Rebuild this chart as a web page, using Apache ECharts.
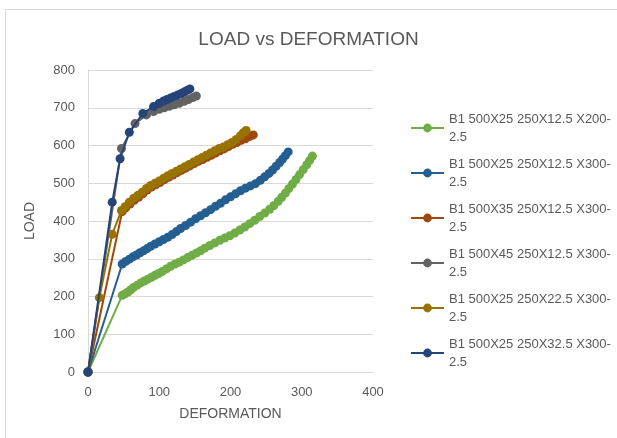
<!DOCTYPE html>
<html><head><meta charset="utf-8">
<script src="https://cdn.jsdelivr.net/npm/echarts@6/dist/echarts.min.js"></script>
<style>html,body{margin:0;padding:0;background:#fff}#c{width:617px;height:438px}</style>
</head><body><div id="c"></div>
<script>
const title = 'LOAD vs DEFORMATION';
const xName = 'DEFORMATION';
const yName = 'LOAD';
const xTicks = [0, 100, 200, 300, 400];
const yTicks = [0, 100, 200, 300, 400, 500, 600, 700, 800];
const names = [
  'B1 500X25 250X12.5 X200-2.5',
  'B1 500X25 250X12.5 X300-2.5',
  'B1 500X35 250X12.5 X300-2.5',
  'B1 500X45 250X12.5 X300-2.5',
  'B1 500X25 250X22.5 X300-2.5',
  'B1 500X25 250X32.5 X300-2.5'
];
const colors = ['#70AD47', '#255E91', '#9E480E', '#636363', '#997300', '#264478'];
const s1 = [[0,0],[48,203],[52,207],[56,212],[60,218],[64,224],[69,230],[74,236],[79,241],[84,246],[89,251],[94,256],[99,261],[104,266],[110,273],[116,280],[122,286],[128,291],[134,297],[140,303],[146,309],[152,315],[158,321],[164,328],[171,335],[178,342],[185,349],[192,355],[199,361],[206,368],[213,376],[220,384],[227,393],[234,402],[241,412],[248,421],[255,431],[261,441],[267,452],[272,463],[277,474],[282,486],[287,498],[292,510],[297,523],[302,536],[307,549],[311,560],[315,572]];
const s2 = [[0,0],[48,286],[53,293],[58,299],[63,305],[68,310],[73,316],[78,321],[83,327],[88,333],[94,339],[100,345],[106,351],[112,357],[118,364],[124,372],[130,380],[137,388],[144,397],[151,406],[158,414],[165,422],[172,430],[179,439],[186,447],[193,456],[200,464],[207,472],[214,480],[221,487],[228,493],[235,499],[242,508],[248,517],[254,526],[259,535],[264,545],[269,555],[273,564],[277,573],[281,583]];
const s3 = [[0,0],[48,425],[53,435],[59,445],[65,455],[71,463],[77,472],[83,482],[89,490],[95,496],[101,502],[107,509],[113,516],[119,522],[125,528],[131,534],[137,540],[143,546],[149,552],[155,558],[161,563],[167,569],[173,574],[179,580],[185,586],[191,591],[197,597],[203,603],[209,608],[215,614],[221,618],[227,624],[232,628]];
const s4 = [[0,0],[47,592],[66,658],[82,681],[92,690],[100,696],[107,700],[114,704],[121,708],[128,712],[135,717],[141,722],[147,727],[152,731]];
const s5 = [[0,0],[16,197],[34,365],[47,428],[52,438],[58,450],[64,460],[70,468],[76,476],[82,486],[88,494],[94,500],[100,506],[106,513],[112,520],[118,526],[124,532],[130,538],[136,544],[142,550],[148,556],[154,562],[160,568],[166,574],[172,580],[178,586],[184,592],[190,596],[196,602],[202,608],[208,616],[214,626],[218,634],[222,640]];
const s6 = [[0,0],[34,450],[45,565],[58,635],[77,685],[92,703],[100,712],[106,718],[111,722],[116,726],[121,730],[126,734],[131,738],[135,742],[139,746],[143,750]];
const seriesData = [s1, s2, s3, s4, s5, s6];

const FONT = 'Liberation Sans';
const chart = echarts.init(document.getElementById('c'), null, {renderer: 'canvas'});
chart.setOption({
  animation: false,
  backgroundColor: '#fff',
  textStyle: {fontFamily: FONT},
  title: {
    text: title, left: 'center', top: 25,
    textStyle: {fontFamily: FONT, fontSize: 19, fontWeight: 'normal', color: '#595959'}
  },
  graphic: [{
    type: 'rect', silent: true,
    shape: {x: 5.5, y: 9.5, width: 800, height: 600},
    style: {fill: 'none', stroke: '#d9d9d9', lineWidth: 1}
  }],
  grid: {left: 88, right: 244, top: 70, bottom: 66, containLabel: false},
  legend: {
    orient: 'vertical', left: 405, top: 96,
    itemWidth: 33, itemHeight: 11, itemGap: -9,
    formatter: n => n.replace(/-(?=[^-]*$)/, '-\n'),
    textStyle: {fontFamily: FONT, fontSize: 13, color: '#595959', lineHeight: 18, padding: [18, 0, 0, 0]},
    data: names
  },
  xAxis: {
    type: 'value', min: xTicks[0], max: xTicks[xTicks.length - 1], interval: 100,
    name: xName, nameLocation: 'middle', nameGap: 35,
    nameTextStyle: {fontFamily: FONT, fontSize: 14, color: '#595959'},
    axisLine: {show: true, lineStyle: {color: '#d9d9d9'}},
    axisTick: {show: false},
    axisLabel: {fontFamily: FONT, fontSize: 13, color: '#595959', margin: 14},
    splitLine: {show: false}
  },
  yAxis: {
    type: 'value', min: yTicks[0], max: yTicks[yTicks.length - 1], interval: 100,
    name: yName, nameLocation: 'middle', nameGap: 51, nameRotate: 90,
    nameTextStyle: {fontFamily: FONT, fontSize: 14, color: '#595959'},
    axisLine: {show: true, lineStyle: {color: '#d9d9d9'}},
    axisTick: {show: false},
    axisLabel: {fontFamily: FONT, fontSize: 13, color: '#595959', margin: 13},
    splitLine: {show: true, lineStyle: {color: '#d9d9d9'}}
  },
  series: names.map((n, i) => ({
    name: n, type: 'line', data: seriesData[i],
    symbol: 'circle', symbolSize: 9, showSymbol: true,
    itemStyle: {color: colors[i]},
    lineStyle: {color: colors[i], width: 2},
    z: 2 + i
  }))
});
</script></body></html>
